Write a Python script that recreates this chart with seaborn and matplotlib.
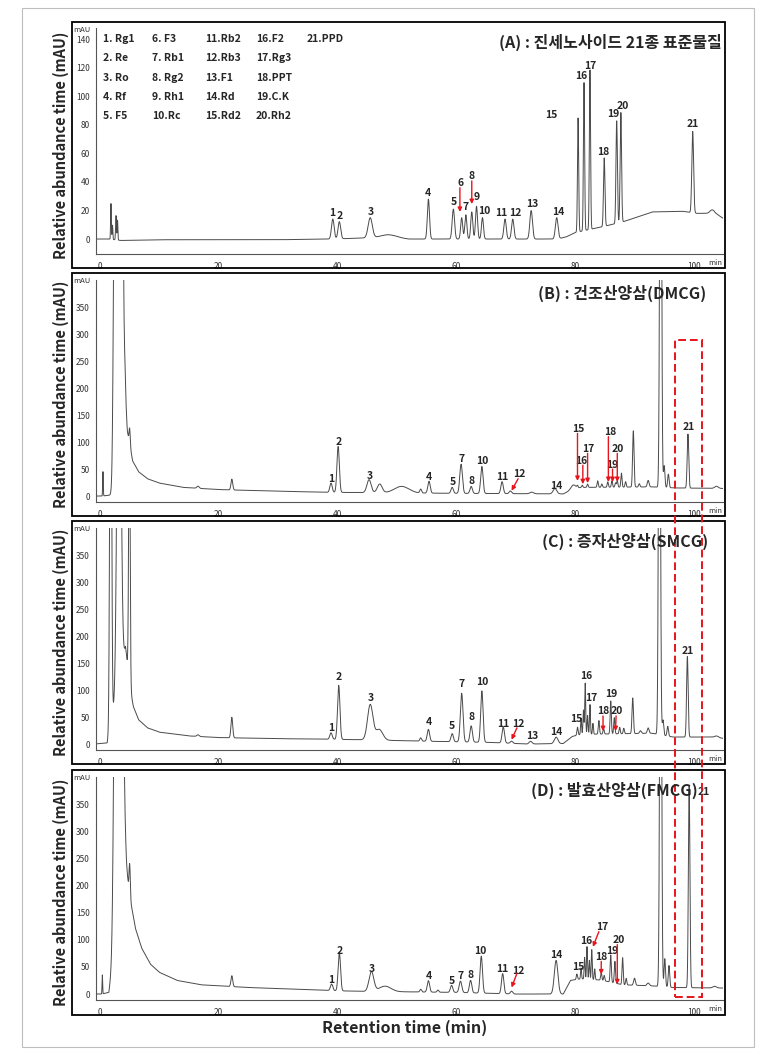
import numpy as np
import pandas as pd
import seaborn as sns
import matplotlib.pyplot as plt
from matplotlib.ticker import MultipleLocator
from matplotlib.patches import Rectangle

sns.set_style("white")
plt.rcParams['font.family'] = ['Noto Sans CJK KR', 'DejaVu Sans']

W, H = 776, 1055

# ---- panel A : standards (rt min, height mAU, width min) ----
a_peaks = [(1.85, 25, 0.06), (2.1, 10, 0.06), (2.7, 17, 0.07), (2.95, 14, 0.06),
           (39.2, 14, 0.22), (40.3, 12, 0.22), (45.5, 14, 0.35), (48.5, 2, 1.2),
           (55.3, 28, 0.18), (59.5, 21, 0.2), (60.9, 15, 0.17), (61.6, 17, 0.17),
           (62.6, 19, 0.17), (63.4, 23, 0.17), (64.4, 15, 0.17), (68.2, 14, 0.2),
           (69.5, 14, 0.2), (72.6, 20, 0.22), (76.9, 15, 0.22), (80.5, 80, 0.1),
           (81.5, 104, 0.1), (82.5, 112, 0.1), (84.9, 48, 0.12), (87.0, 72, 0.12),
           (87.7, 77, 0.12), (99.8, 57, 0.15), (103.1, 3, 0.4)]
a_base = [(-1, 0), (1.5, 0), (3.5, -1), (10, -0.5), (30, -0.5), (39, 0), (46.5, 1),
          (50, 1), (52, 0), (77, 0), (78.5, 1.5), (80, 4.5), (85, 9), (88, 12),
          (93, 19), (98, 19.5), (100.5, 18), (102, 18), (104, 17), (105.5, 13)]
a_labels = [("1", 39.1, 18.5), ("2", 40.3, 16), ("3", 45.6, 19), ("4", 55.2, 32),
            ("5", 59.5, 26), ("6", 60.7, 39.5), ("7", 61.6, 22.7), ("8", 62.6, 44),
            ("9", 63.5, 29.7), ("10", 64.7, 19.6), ("11", 67.6, 18.5), ("12", 69.9, 18.5),
            ("13", 72.7, 24.5), ("14", 77.1, 19), ("15", 76.0, 87), ("16", 81.1, 114),
            ("17", 82.5, 121), ("18", 84.7, 61), ("19", 86.5, 88), ("20", 88.0, 93.5),
            ("21", 99.8, 80.7)]
a_arrows = [(60.6, 36, 60.6, 19), (62.6, 40.7, 62.6, 24.5)]

# ---- panel B : DMCG ----
b_peaks = [(0.5, 45, 0.05), (2.6, 900, 0.25), (3.5, 800, 0.3), (5.0, 30, 0.1),
           (16.5, 4, 0.2), (22.2, 20, 0.15), (38.9, 17, 0.2), (40.1, 85, 0.2),
           (45.3, 24, 0.35), (47.1, 16, 0.4), (50.8, 12, 1.2), (54.0, 7, 0.15),
           (55.4, 22, 0.2), (59.3, 11, 0.2), (60.8, 54, 0.22), (62.5, 13, 0.2),
           (64.3, 50, 0.2), (67.7, 22, 0.2), (69.1, 5, 0.2), (72.7, 3, 0.3),
           (76.6, 10, 0.3), (79.7, 8, 0.4), (80.4, 4, 0.1), (81.2, 4, 0.1),
           (82.1, 6, 0.1), (83.8, 12, 0.1), (84.5, 6, 0.1), (85.5, 10, 0.1),
           (86.2, 12, 0.1), (86.8, 8, 0.1), (87.1, 12, 0.1), (87.8, 26, 0.1),
           (88.5, 10, 0.1), (89.8, 104, 0.12), (90.8, 6, 0.12), (92.3, 12, 0.15),
           (94.4, 1000, 0.15), (95.0, 40, 0.12), (95.7, 25, 0.12), (99.0, 100, 0.13),
           (103.8, 4, 0.3)]
b_base = [(-1, 0), (0.3, 0), (2.0, 2), (4.2, 200), (4.6, 120), (5.5, 65), (6.5, 45),
          (8, 32), (10, 24), (14, 16), (20, 12), (30, 9), (38, 7), (50, 6), (60, 5),
          (78, 4), (79.5, 12), (81, 16), (93, 17), (97, 15), (105.5, 14)]
b_labels = [("1", 39.0, 31), ("2", 40.1, 100), ("3", 45.5, 38), ("4", 55.4, 35),
            ("5", 59.4, 26), ("7", 60.8, 69), ("8", 62.6, 27), ("10", 64.3, 64),
            ("11", 67.8, 35), ("12", 70.6, 40), ("14", 76.9, 19), ("15", 80.6, 125),
            ("16", 81.1, 65), ("17", 82.2, 87), ("18", 85.9, 118), ("19", 86.3, 58),
            ("20", 87.1, 87), ("21", 99.2, 128)]
b_arrows = [(70.4, 32, 69.3, 10), (80.4, 116, 80.4, 28), (81.3, 57, 81.3, 22),
            (82.1, 79, 82.1, 24), (85.6, 110, 85.6, 26), (86.3, 50, 86.3, 26),
            (87.1, 79, 87.1, 26)]

# ---- panel C : SMCG ----
c_peaks = [(1.8, 900, 0.15), (3.2, 900, 0.3), (4.95, 500, 0.12), (16.5, 3, 0.2),
           (22.2, 38, 0.15), (38.9, 12, 0.2), (40.2, 100, 0.2), (45.5, 65, 0.45),
           (47.0, 20, 0.6), (54.0, 6, 0.15), (55.3, 22, 0.2), (59.3, 15, 0.2),
           (60.9, 90, 0.22), (62.5, 30, 0.2), (64.3, 95, 0.2), (67.9, 30, 0.2),
           (69.3, 4, 0.2), (72.5, 5, 0.25), (76.8, 12, 0.3), (80.4, 15, 0.1),
           (81.0, 30, 0.08), (81.4, 45, 0.08), (81.7, 95, 0.08), (82.1, 35, 0.08),
           (82.5, 55, 0.08), (83.0, 20, 0.08), (84.0, 25, 0.1), (84.8, 10, 0.1),
           (86.0, 61, 0.1), (86.6, 30, 0.1), (87.5, 12, 0.1), (88.2, 10, 0.1),
           (89.7, 66, 0.12), (91.0, 5, 0.15), (92.3, 10, 0.15), (94.2, 1000, 0.15),
           (94.8, 28, 0.12), (95.6, 18, 0.12), (98.9, 149, 0.13), (103.8, 3, 0.3)]
c_base = [(-1, 0), (1.2, 2), (4.3, 180), (5.0, 110), (5.6, 70), (6.5, 45), (8, 30),
          (10, 22), (15, 15), (20, 12), (30, 10), (38, 9), (44, 8), (56, 5), (66, 3),
          (72, 0), (78, 1), (79.5, 14), (81, 18), (93, 20), (96.5, 13), (103, 13),
          (105.5, 10)]
c_labels = [("1", 38.9, 30), ("2", 40.2, 125), ("3", 45.6, 85), ("4", 55.3, 40),
            ("5", 59.3, 33), ("7", 60.9, 112), ("8", 62.6, 50), ("10", 64.4, 115),
            ("11", 67.9, 38), ("12", 70.5, 38), ("13", 72.7, 15), ("14", 76.8, 22),
            ("15", 80.2, 46), ("16", 81.8, 126), ("17", 82.8, 86), ("18", 84.7, 61),
            ("19", 86.1, 92), ("20", 87.0, 61), ("21", 99.0, 173)]
c_arrows = [(70.2, 30, 69.3, 8), (84.7, 52, 84.7, 24), (86.9, 52, 86.8, 24)]

# ---- panel D : FMCG ----
d_peaks = [(0.4, 35, 0.05), (2.7, 900, 0.3), (3.6, 800, 0.3), (5.0, 60, 0.1),
           (22.2, 20, 0.15), (39.0, 12, 0.2), (40.3, 71, 0.2), (45.7, 36, 0.4),
           (48.0, 10, 1.0), (54.0, 5, 0.15), (55.3, 21, 0.2), (56.9, 4, 0.15),
           (59.2, 13, 0.2), (60.7, 21, 0.22), (62.4, 23, 0.2), (64.2, 68, 0.2),
           (67.8, 37, 0.2), (69.3, 5, 0.2), (76.8, 62, 0.3), (80.3, 10, 0.1),
           (81.0, 20, 0.08), (81.6, 40, 0.08), (82.0, 60, 0.08), (82.4, 35, 0.08),
           (82.8, 55, 0.08), (83.3, 20, 0.08), (84.4, 15, 0.1), (84.9, 10, 0.1),
           (86.0, 50, 0.1), (86.7, 40, 0.1), (88.0, 50, 0.1), (88.6, 12, 0.1),
           (90.0, 13, 0.15), (92.3, 5, 0.2), (94.4, 1000, 0.15), (95.1, 52, 0.12),
           (95.8, 40, 0.12), (99.2, 373, 0.13), (103.5, 3, 0.3)]
d_base = [(-1, 0), (0.3, 0), (1.5, 3), (4.3, 250), (5.0, 180), (6, 120), (7, 85),
          (8.5, 55), (10, 40), (13, 25), (17, 17), (25, 12), (35, 8), (40, 6), (44, 5),
          (60, 3), (70, 0), (78, 0), (79.2, 25), (81, 28), (84, 26), (86, 22), (88, 17),
          (93, 15), (96.5, 12), (105.5, 11)]
d_labels = [("1", 39.0, 25), ("2", 40.4, 80), ("3", 45.8, 46), ("4", 55.3, 33),
            ("5", 59.2, 24), ("7", 60.7, 33), ("8", 62.4, 35), ("10", 64.1, 80),
            ("11", 67.8, 46), ("12", 70.4, 43), ("14", 76.9, 72), ("15", 80.6, 50),
            ("16", 81.9, 98), ("17", 84.6, 124), ("18", 84.4, 68), ("19", 86.2, 80),
            ("20", 87.3, 100), ("21", 101.6, 372)]
d_arrows = [(70.2, 38, 69.3, 12), (84.0, 115, 83.0, 87), (84.4, 60, 84.4, 36),
            (87.1, 91, 87.1, 18)]

titles = ["(A) : 진세노사이드 21종 표준물질", "(B) : 건조산양삼(DMCG)",
          "(C) : 증자산양삼(SMCG)", "(D) : 발효산양삼(FMCG)"]
title_right = [722, 706, 708, 698]
legend_cols = [["1. Rg1", "2. Re", "3. Ro", "4. Rf", "5. F5"],
               ["6. F3", "7. Rb1", "8. Rg2", "9. Rh1", "10.Rc"],
               ["11.Rb2", "12.Rb3", "13.F1", "14.Rd", "15.Rd2"],
               ["16.F2", "17.Rg3", "18.PPT", "19.C.K", "20.Rh2"],
               ["21.PPD"]]

# panel geometry in pixels: box (top, bottom), axes (top, bottom), ylim, y ticks
panels = [
    dict(peaks=a_peaks, base=a_base, labels=a_labels, arrows=a_arrows,
         box=(22, 268), ax=(28, 254), ylim=(-10.5, 148), yt=range(0, 141, 20), ymin=5),
    dict(peaks=b_peaks, base=b_base, labels=b_labels, arrows=b_arrows,
         box=(273, 516), ax=(280, 502), ylim=(-11, 400), yt=range(0, 351, 50), ymin=10),
    dict(peaks=c_peaks, base=c_base, labels=c_labels, arrows=c_arrows,
         box=(521, 764), ax=(528, 750), ylim=(-11, 400), yt=range(0, 351, 50), ymin=10),
    dict(peaks=d_peaks, base=d_base, labels=d_labels, arrows=d_arrows,
         box=(770, 1015), ax=(777, 1000), ylim=(-11, 400), yt=range(0, 351, 50), ymin=10),
]

t = np.linspace(-1, 105.5, 8000)


def build_trace(peaks, base):
    bt, by = zip(*base)
    y = np.interp(t, bt, by)
    for rt, h, w in peaks:
        y = y + h * np.exp(-0.5 * ((t - rt) / w) ** 2)
    return pd.DataFrame({"time": t, "signal": y})


fig = plt.figure(figsize=(W / 100, H / 100), dpi=100)

# thin outer frame
fig.patches.append(Rectangle((22 / W, 1 - 1047 / H), (754 - 22) / W, (1047 - 8) / H,
                             transform=fig.transFigure, fill=False, lw=0.8, ec="#bdbdbd"))

box_left, box_right = 72, 725
ax_left, ax_right = 96, 723
for i, p in enumerate(panels):
    top, bot = p["box"]
    fig.patches.append(Rectangle((box_left / W, 1 - bot / H), (box_right - box_left) / W,
                                 (bot - top) / H, transform=fig.transFigure,
                                 fill=False, lw=1.3, ec="black"))
    at, ab = p["ax"]
    ax = fig.add_axes([ax_left / W, 1 - ab / H, (ax_right - ax_left) / W, (ab - at) / H])
    df = build_trace(p["peaks"], p["base"])
    sns.lineplot(data=df, x="time", y="signal", ax=ax, color="#4a4a4a", linewidth=0.7)
    ax.set_xlim(-0.67, 104.9)
    ax.set_ylim(*p["ylim"])
    ax.set_xlabel("")
    ax.set_ylabel("")
    ax.set_facecolor("none")
    for s in ["top", "right"]:
        ax.spines[s].set_visible(False)
    for s in ["left", "bottom"]:
        ax.spines[s].set_color("#555555")
        ax.spines[s].set_linewidth(0.8)
    ax.set_xticks(range(0, 101, 20))
    ax.xaxis.set_minor_locator(MultipleLocator(5))
    ax.set_yticks(list(p["yt"]))
    ax.yaxis.set_minor_locator(MultipleLocator(p["ymin"]))
    ax.tick_params(which="both", direction="out", colors="#555555", labelsize=6,
                   labelcolor="#333333", pad=1.5)
    ax.tick_params(which="major", length=3, width=0.6)
    ax.tick_params(which="minor", length=1.8, width=0.5)
    ax.tick_params(axis="x", pad=3)

    for txt, lx, ly in p["labels"]:
        ax.text(lx, ly, txt, ha="center", va="center", fontsize=7.5, fontweight="bold")
    for x0, y0, x1, y1 in p["arrows"]:
        ax.annotate("", xy=(x1, y1), xytext=(x0, y0),
                    arrowprops=dict(arrowstyle="-|>", color="#e8141b", lw=1.0,
                                    mutation_scale=6, shrinkA=0, shrinkB=0))

    fig.text(82 / W, 1 - (top + 8) / H, "mAU", fontsize=5.5, color="#333333",
             ha="center", va="center")
    fig.text(715 / W, 1 - (ab + 9) / H, "min", fontsize=5.5, color="#333333",
             ha="center", va="center")
    fig.text(title_right[i] / W, 1 - (top + 20) / H, titles[i], fontsize=11.5,
             fontweight="bold", ha="right", va="center")
    fig.text(61 / W, 1 - ((top + bot) / 2) / H, "Relative abundance time (mAU)",
             fontsize=10.5, fontweight="bold", rotation=90, ha="center", va="center")

# compound legend in panel A
col_x = [103, 152, 205, 256, 307]
for cx, col in zip(col_x, legend_cols):
    for r, entry in enumerate(col):
        fig.text(cx / W, 1 - (39 + r * 19.3) / H, entry, fontsize=7.5,
                 fontweight="bold", ha="left", va="center")

# red dashed box marking peak 21
fig.patches.append(Rectangle((675 / W, 1 - 997 / H), (702 - 675) / W, (997 - 340) / H,
                             transform=fig.transFigure, fill=False, lw=1.4,
                             ec="#e8141b", ls=(0, (4, 2))))

fig.text(405 / W, 1 - 1028 / H, "Retention time (min)", fontsize=11.5, fontweight="bold",
         ha="center", va="center")

fig.savefig("out.png", dpi=100)
